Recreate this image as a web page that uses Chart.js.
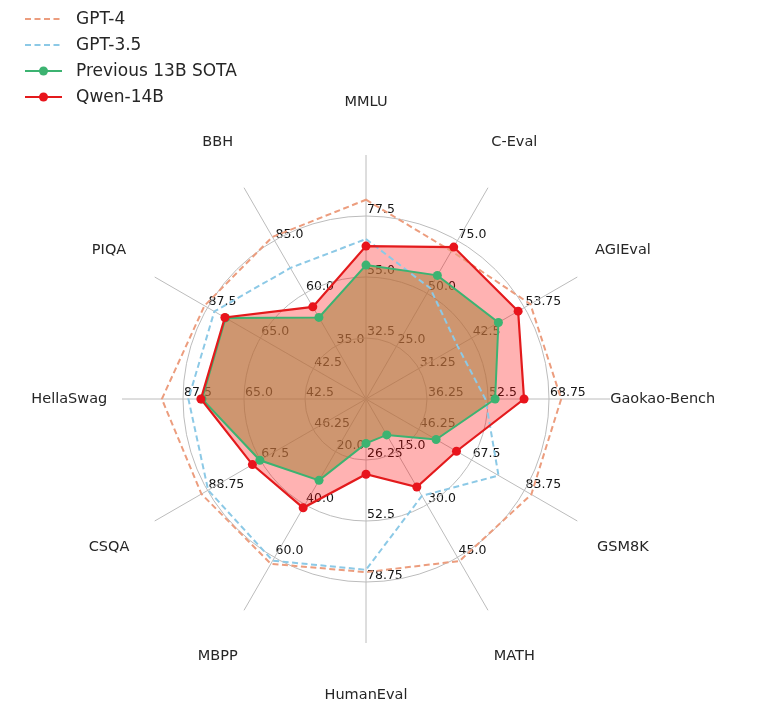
<!DOCTYPE html>
<html>
<head>
<meta charset="utf-8">
<script src="https://cdn.jsdelivr.net/npm/chart.js@4.4.1/dist/chart.umd.min.js"></script>
<style>
  html, body { margin: 0; padding: 0; background: #ffffff; }
  canvas { display: block; }
</style>
</head>
<body>
<canvas id="c" width="764" height="709"></canvas>
<script>
// ---------- data ----------
const categories = ['MMLU', 'C-Eval', 'AGIEval', 'Gaokao-Bench', 'GSM8K', 'MATH',
                    'HumanEval', 'MBPP', 'CSQA', 'HellaSwag', 'PIQA', 'BBH'];

// value at the centre and at the outer end of each spoke
const axisMin = [10, 0, 20, 20, 25, 0, 0, 0, 25, 20, 20, 10];
const axisMax = [100, 100, 65, 85, 110, 60, 105, 80, 110, 110, 110, 110];

// tick labels printed on each spoke (inner, middle, outer ring)
const tickLabels = [
  ['32.5', '55.0', '77.5'],
  ['25.0', '50.0', '75.0'],
  ['31.25', '42.5', '53.75'],
  ['36.25', '52.5', '68.75'],
  ['46.25', '67.5', '83.75'],
  ['15.0', '30.0', '45.0'],
  ['26.25', '52.5', '78.75'],
  ['20.0', '40.0', '60.0'],
  ['46.25', '67.5', '88.75'],
  ['42.5', '65.0', '87.5'],
  ['42.5', '65.0', '87.5'],
  ['35.0', '60.0', '85.0']
];
const tickFractions = [0.25, 0.5, 0.75];

const gpt4     = [83.5, 70.0, 55.0, 72.0, 91.5, 46.0, 74.5, 62.4, 91.2, 95.3, 88.8, 86.7];
const gpt35    = [69.0, 52.5, 39.5, 51.8, 78.3, 27.5, 73.5, 61.2, 88.5, 85.5, 84.6, 72.0];
const prevSota = [59.4, 58.5, 48.2, 54.4, 53.2, 10.2, 19.1, 30.8, 67.7, 80.5, 79.8, 48.6];
const qwen14b  = [66.4, 71.9, 52.4, 62.1, 61.4, 25.0, 32.4, 41.2, 70.7, 80.9, 80.1, 53.6];

// ---------- helpers ----------
const norm = vals => vals.map((v, i) => (v - axisMin[i]) / (axisMax[i] - axisMin[i]));
const FONT = '"DejaVu Sans", "Liberation Sans", sans-serif';

const tickPlugin = {
  id: 'spokeTicks',
  beforeDraw(chart) {
    const s = chart.scales.r;
    const ctx = chart.ctx;
    ctx.save();
    ctx.font = '12.5px ' + FONT;
    ctx.fillStyle = '#151515';
    ctx.textAlign = 'left';
    ctx.textBaseline = 'bottom';
    tickLabels.forEach((labs, i) => {
      labs.forEach((lab, k) => {
        const p = s.getPointPositionForValue(i, tickFractions[k]);
        ctx.fillText(lab, p.x + 1, p.y);
      });
    });
    ctx.restore();
  },
  afterDraw(chart) {
    const s = chart.scales.r;
    const ctx = chart.ctx;
    ctx.save();
    // spoke names
    ctx.font = '14.5px ' + FONT;
    ctx.fillStyle = '#262626';
    ctx.textAlign = 'center';
    ctx.textBaseline = 'middle';
    categories.forEach((name, i) => {
      const p = s.getPointPosition(i, s.drawingArea * 1.216);
      ctx.fillText(name, p.x, p.y);
    });
    // legend
    chart.data.datasets.forEach((ds, k) => {
      const y = 19 + k * 26;
      ctx.strokeStyle = ds.borderColor;
      ctx.lineWidth = ds.borderWidth;
      ctx.setLineDash(ds.borderDash || []);
      ctx.beginPath();
      ctx.moveTo(25, y);
      ctx.lineTo(62, y);
      ctx.stroke();
      ctx.setLineDash([]);
      if (ds.pointRadius > 0) {
        ctx.fillStyle = ds.pointBackgroundColor;
        ctx.beginPath();
        ctx.arc(43.5, y, ds.pointRadius, 0, Math.PI * 2);
        ctx.fill();
      }
      ctx.fillStyle = '#262626';
      ctx.font = '17px ' + FONT;
      ctx.textAlign = 'left';
      ctx.textBaseline = 'middle';
      ctx.fillText(ds.label, 76, y + 1);
    });
    ctx.restore();
  }
};

new Chart(document.getElementById('c'), {
  type: 'radar',
  data: {
    labels: categories,
    datasets: [
      {
        label: 'GPT-4', data: norm(gpt4), order: 4,
        borderColor: '#ec9d7e', borderWidth: 2, borderDash: [6, 3.5],
        fill: false, pointRadius: 0, pointHoverRadius: 0
      },
      {
        label: 'GPT-3.5', data: norm(gpt35), order: 3,
        borderColor: '#8cc9e6', borderWidth: 2, borderDash: [6, 3.5],
        fill: false, pointRadius: 0, pointHoverRadius: 0
      },
      {
        label: 'Previous 13B SOTA', data: norm(prevSota), order: 2,
        borderColor: '#3cb371', borderWidth: 2,
        backgroundColor: 'rgba(136,187,97,0.6)', fill: true,
        pointRadius: 4.5, pointBorderWidth: 0, pointBackgroundColor: '#3cb371'
      },
      {
        label: 'Qwen-14B', data: norm(qwen14b), order: 1,
        borderColor: '#e31a1c', borderWidth: 2.2,
        backgroundColor: 'rgba(255,0,0,0.3)', fill: true,
        pointRadius: 4.5, pointBorderWidth: 0, pointBackgroundColor: '#e8141c'
      }
    ]
  },
  options: {
    responsive: false,
    animation: false,
    events: [],
    layout: { padding: { left: 122, right: 154, top: 155, bottom: 66 } },
    elements: { line: { tension: 0 } },
    plugins: {
      legend: { display: false },
      tooltip: { enabled: false },
      filler: { drawTime: 'beforeDatasetsDraw' }
    },
    scales: {
      r: {
        min: 0, max: 1,
        ticks: { display: false, stepSize: 0.25 },
        pointLabels: { display: false },
        grid: {
          circular: true,
          lineWidth: 1,
          color: ctx => (ctx.tick && ctx.tick.value > 0.99) ? 'rgba(0,0,0,0)' : '#bcbcbc'
        },
        angleLines: { color: '#bcbcbc', lineWidth: 1 }
      }
    }
  },
  plugins: [tickPlugin]
});
</script>
</body>
</html>
